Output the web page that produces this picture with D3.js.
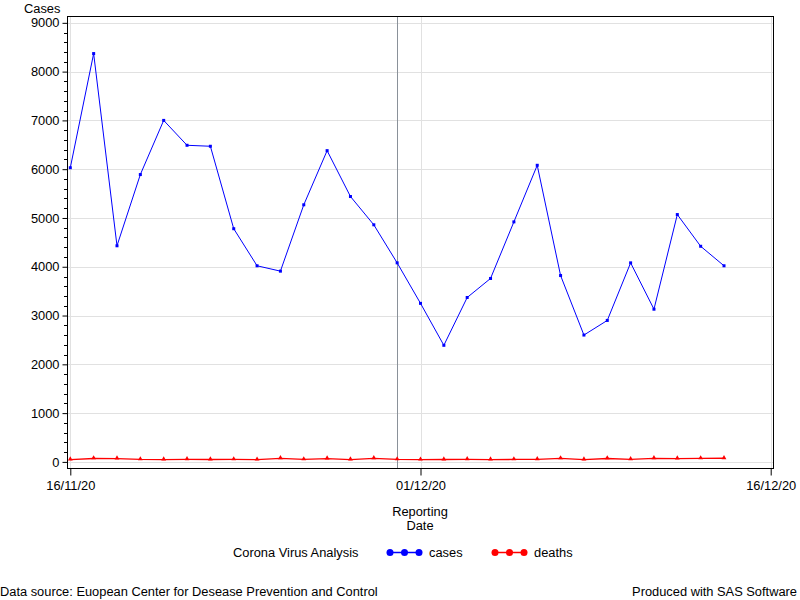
<!DOCTYPE html>
<html>
<head>
<meta charset="utf-8">
<script src="https://cdn.jsdelivr.net/npm/d3@7"></script>
<style>
  html, body { margin: 0; padding: 0; background: #fff; }
  svg { display: block; font-family: "Liberation Sans", Arial, sans-serif; }
</style>
</head>
<body>
<svg id="chart" width="800" height="600"></svg>
<script>
// ---- data ----
const dates = ["16/11/20","17/11/20","18/11/20","19/11/20","20/11/20","21/11/20","22/11/20","23/11/20","24/11/20","25/11/20",
               "26/11/20","27/11/20","28/11/20","29/11/20","30/11/20","01/12/20","02/12/20","03/12/20","04/12/20","05/12/20",
               "06/12/20","07/12/20","08/12/20","09/12/20","10/12/20","11/12/20","12/12/20","13/12/20","14/12/20"];
const cases = [6030, 8370, 4430, 5890, 7000, 6490, 6470, 4780, 4020, 3910,
               5270, 6380, 5440, 4860, 4080, 3250, 2390, 3370, 3760, 4920,
               6080, 3820, 2600, 2900, 4080, 3130, 5070, 4420, 4020];
const deaths = [48, 70, 68, 50, 47, 52, 49, 51, 46, 72,
                50, 69, 48, 74, 51, 45, 49, 52, 47, 50,
                53, 71, 48, 70, 52, 73, 68, 71, 75];
const xTickLabels = ["16/11/20", "01/12/20", "16/12/20"];
const yTicks = [0, 1000, 2000, 3000, 4000, 5000, 6000, 7000, 8000, 9000];
const refDate = "30/11/20";
const seriesNames = ["cases", "deaths"];
const legendTitle = "Corona Virus Analysis";
const yTitle = "Cases";
const xTitle = ["Reporting", "Date"];
const footLeft = "Data source: Euopean Center for Desease Prevention and Control";
const footRight = "Produced with SAS Software";

// ---- setup ----
const parse = d3.timeParse("%d/%m/%y");
const svg = d3.select("#chart");
const L = 67, R = 773, T = 16, B = 468;

const x = d3.scaleTime()
  .domain([parse(xTickLabels[0]), parse(xTickLabels[2])])
  .range([70.3, 770.7]);
const y = d3.scaleLinear().domain([-125, 9140]).range([B, T]);

const fontSize = 12.85;

// gridlines
const grid = svg.append("g");
grid.selectAll("line.h").data(yTicks).join("line")
  .attr("x1", L).attr("x2", R)
  .attr("y1", d => Math.round(y(d)) + 0.5).attr("y2", d => Math.round(y(d)) + 0.5)
  .attr("stroke", "#e1e1e1").attr("stroke-width", 1);
grid.selectAll("line.v").data(xTickLabels).join("line")
  .attr("x1", d => Math.round(x(parse(d))) + 0.5).attr("x2", d => Math.round(x(parse(d))) + 0.5)
  .attr("y1", T).attr("y2", B)
  .attr("stroke", "#e1e1e1").attr("stroke-width", 1);

// reference line
svg.append("line")
  .attr("x1", Math.round(x(parse(refDate))) + 0.5).attr("x2", Math.round(x(parse(refDate))) + 0.5)
  .attr("y1", T).attr("y2", B)
  .attr("stroke", "#8a9199").attr("stroke-width", 1);

// series
const dts = dates.map(parse);
const line = d3.line().x((d, i) => x(dts[i])).y(d => y(d));
svg.append("path").datum(cases).attr("d", line)
  .attr("fill", "none").attr("stroke", "#0000ff").attr("stroke-width", 1);
svg.append("path").datum(deaths).attr("d", line)
  .attr("fill", "none").attr("stroke", "#ff0000").attr("stroke-width", 1.3);

svg.append("g").selectAll("rect").data(cases).join("rect")
  .attr("x", (d, i) => x(dts[i]) - 1.5).attr("y", d => y(d) - 1.5)
  .attr("width", 3).attr("height", 3).attr("fill", "#0000ff");
const tri = d3.symbol().type(d3.symbolTriangle).size(10);
svg.append("g").selectAll("path").data(deaths).join("path")
  .attr("d", tri)
  .attr("transform", (d, i) => `translate(${x(dts[i])},${y(d) - 0.5})`)
  .attr("fill", "#ff0000");

// frame
svg.append("rect").attr("x", L + 0.5).attr("y", T + 0.5)
  .attr("width", R - L).attr("height", B - T)
  .attr("fill", "none").attr("stroke", "#000").attr("stroke-width", 1);

// y axis
const yAxis = d3.axisLeft(y).tickValues(yTicks).tickSize(5).tickPadding(3).tickFormat(d3.format("d"));
const gy = svg.append("g").attr("transform", `translate(${L + 0.5},0)`).call(yAxis);
gy.select(".domain").remove();
gy.selectAll("text").attr("font-size", fontSize).attr("fill", "#000").attr("font-family", "Liberation Sans, Arial, sans-serif");
const minor = d3.range(200, 9140, 200).filter(v => v % 1000 !== 0);
svg.append("g").selectAll("line").data(minor).join("line")
  .attr("x1", L - 3).attr("x2", L)
  .attr("y1", d => Math.round(y(d)) + 0.5).attr("y2", d => Math.round(y(d)) + 0.5)
  .attr("stroke", "#000");

// x axis
const xAxis = d3.axisBottom(x).tickValues(xTickLabels.map(parse)).tickSize(7).tickPadding(5)
  .tickFormat(d3.timeFormat("%d/%m/%y"));
const gx = svg.append("g").attr("transform", `translate(0,${B + 0.5})`).call(xAxis);
gx.select(".domain").remove();
gx.selectAll("text").attr("font-size", fontSize).attr("fill", "#000").attr("font-family", "Liberation Sans, Arial, sans-serif");

// titles
svg.append("text").attr("x", 24).attr("y", 13).attr("font-size", fontSize).text(yTitle);
svg.append("text").attr("x", 420).attr("y", 516).attr("text-anchor", "middle").attr("font-size", fontSize).text(xTitle[0]);
svg.append("text").attr("x", 420).attr("y", 530).attr("text-anchor", "middle").attr("font-size", fontSize).text(xTitle[1]);

// legend
const ly = 552.5;
svg.append("text").attr("x", 233).attr("y", ly + 4.5).attr("font-size", fontSize).text(legendTitle);
const legendItems = [
  {name: seriesNames[0], color: "#0000ff", x0: 387, tx: 429},
  {name: seriesNames[1], color: "#ff0000", x0: 492, tx: 534}
];
legendItems.forEach(it => {
  const g = svg.append("g");
  g.append("line").attr("x1", it.x0).attr("x2", it.x0 + 35).attr("y1", ly).attr("y2", ly)
    .attr("stroke", it.color).attr("stroke-width", 1.5);
  [0, 1, 2].forEach(k => {
    g.append("circle").attr("cx", it.x0 + 3 + k * 14.5).attr("cy", ly).attr("r", 3.5).attr("fill", it.color);
  });
  g.append("text").attr("x", it.tx).attr("y", ly + 4.5).attr("font-size", fontSize).text(it.name);
});

// footnotes
svg.append("text").attr("x", 0).attr("y", 596).attr("font-size", fontSize).text(footLeft);
svg.append("text").attr("x", 797).attr("y", 596).attr("text-anchor", "end").attr("font-size", fontSize).text(footRight);
</script>
</body>
</html>
